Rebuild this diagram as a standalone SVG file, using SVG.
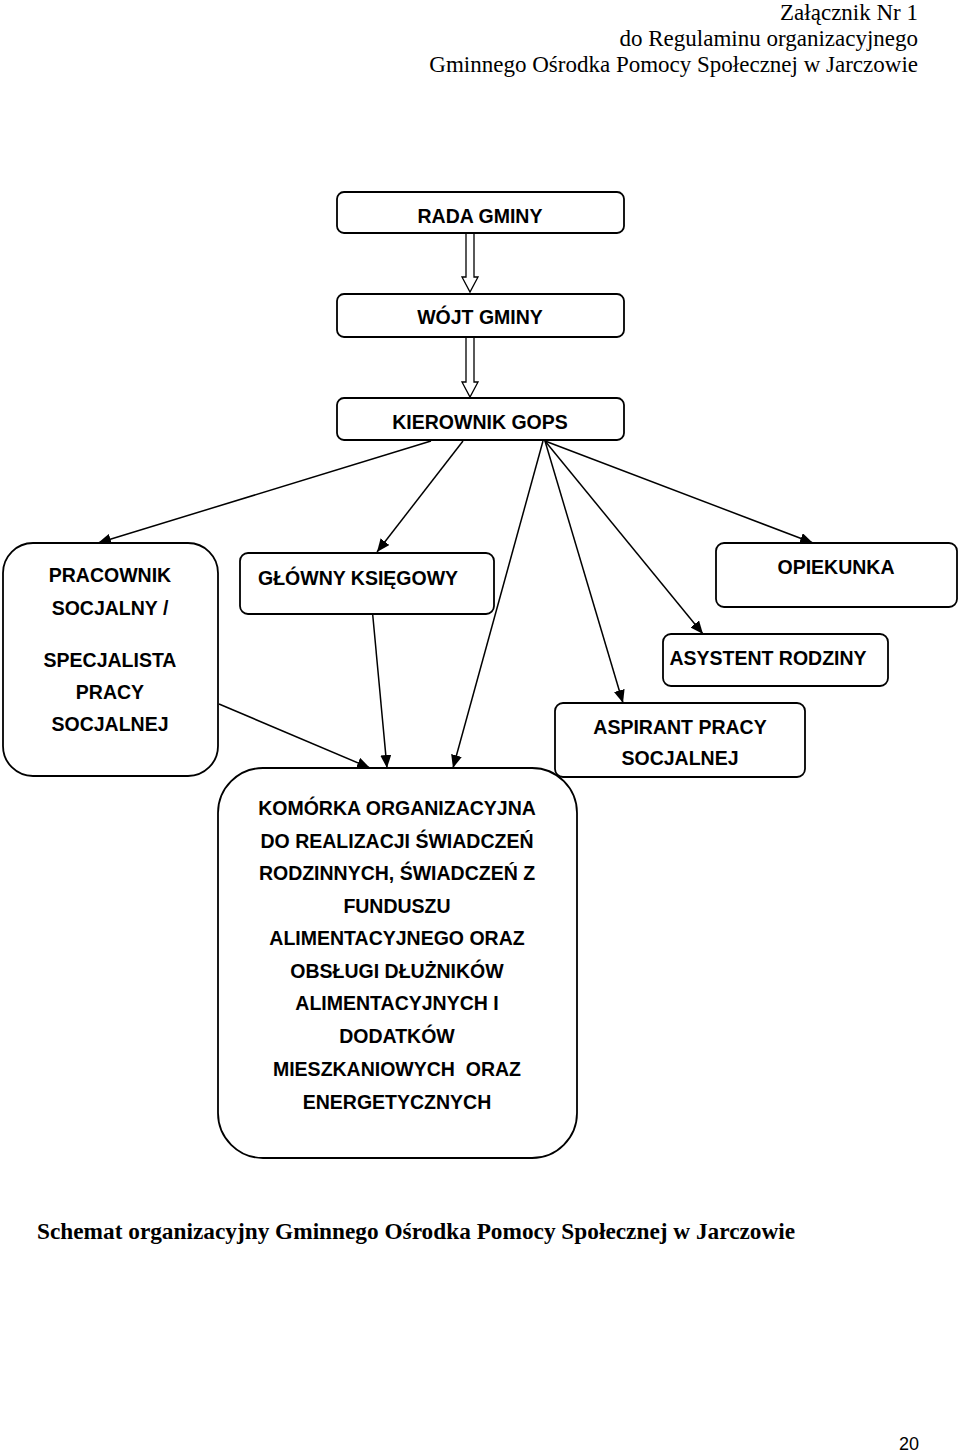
<svg xmlns="http://www.w3.org/2000/svg" width="960" height="1453" viewBox="0 0 960 1453">
<style>
.box{fill:#fff;stroke:#000;stroke-width:1.8}
.t{font-family:"Liberation Sans",Arial,sans-serif;font-weight:bold;font-size:19.5px;fill:#000;text-anchor:middle}
.hdr{font-family:"Liberation Serif","Times New Roman",serif;font-size:23px;fill:#000;text-anchor:end}
.ln{stroke:#000;stroke-width:1.5;fill:none}
.dbl{fill:#fff;stroke:#000;stroke-width:1.3}
</style>
<defs>
<marker id="ah" viewBox="0 0 13 11" refX="13" refY="5.5" markerWidth="13" markerHeight="11" markerUnits="userSpaceOnUse" orient="auto">
<path d="M0,0 L13,5.5 L0,11 z" fill="#000"/>
</marker>
</defs>
<g id="header">
<text class="hdr" x="918" y="20">Załącznik Nr 1</text>
<text class="hdr" x="918" y="46">do Regulaminu organizacyjnego</text>
<text class="hdr" x="918" y="72">Gminnego Ośrodka Pomocy Społecznej w Jarczowie</text>
</g>
<g id="connectors">
<path class="dbl" d="M466,234 V277 H462 L470,292 L478,277 H474 V234"/>
<path class="dbl" d="M466,338 V382 H462 L470,397 L478,382 H474 V338"/>
<line class="ln" x1="431" y1="441" x2="98" y2="543" marker-end="url(#ah)"/>
<line class="ln" x1="463" y1="441" x2="377" y2="552" marker-end="url(#ah)"/>
<line class="ln" x1="543" y1="441" x2="453" y2="768" marker-end="url(#ah)"/>
<line class="ln" x1="545" y1="441" x2="623" y2="703" marker-end="url(#ah)"/>
<line class="ln" x1="545" y1="441" x2="703" y2="634" marker-end="url(#ah)"/>
<line class="ln" x1="545" y1="441" x2="813" y2="543" marker-end="url(#ah)"/>
<line class="ln" x1="372" y1="607" x2="387" y2="768" marker-end="url(#ah)"/>
<line class="ln" x1="219" y1="704" x2="370" y2="768" marker-end="url(#ah)"/>
</g>
<g id="rada">
<rect class="box" x="337" y="192" width="287" height="41" rx="7"/>
<text class="t" x="480" y="223">RADA GMINY</text>
</g>
<g id="wojt">
<rect class="box" x="337" y="294" width="287" height="43" rx="7"/>
<text class="t" x="480" y="324">WÓJT GMINY</text>
</g>
<g id="kierownik">
<rect class="box" x="337" y="398" width="287" height="42" rx="7"/>
<text class="t" x="480" y="429">KIEROWNIK GOPS</text>
</g>
<g id="pracownik">
<rect class="box" x="3" y="543" width="215" height="233" rx="30"/>
<text class="t" x="110" y="582">PRACOWNIK</text>
<text class="t" x="110" y="615">SOCJALNY /</text>
<text class="t" x="110" y="667">SPECJALISTA</text>
<text class="t" x="110" y="699">PRACY</text>
<text class="t" x="110" y="731">SOCJALNEJ</text>
</g>
<g id="ksiegowy">
<rect class="box" x="240" y="553" width="254" height="61" rx="8"/>
<text class="t" x="258" y="585" style="text-anchor:start">GŁÓWNY KSIĘGOWY</text>
</g>
<g id="opiekunka">
<rect class="box" x="716" y="543" width="241" height="64" rx="8"/>
<text class="t" x="836" y="574">OPIEKUNKA</text>
</g>
<g id="asystent">
<rect class="box" x="663" y="634" width="225" height="52" rx="8"/>
<text class="t" x="768" y="665">ASYSTENT RODZINY</text>
</g>
<g id="aspirant">
<rect class="box" x="555" y="703" width="250" height="74" rx="8"/>
<text class="t" x="680" y="734">ASPIRANT PRACY</text>
<text class="t" x="680" y="765">SOCJALNEJ</text>
</g>
<g id="komorka">
<rect class="box" x="218" y="768" width="359" height="390" rx="45"/>
<text class="t" x="397" y="815">KOMÓRKA ORGANIZACYJNA</text>
<text class="t" x="397" y="848">DO REALIZACJI ŚWIADCZEŃ</text>
<text class="t" x="397" y="880">RODZINNYCH, ŚWIADCZEŃ Z</text>
<text class="t" x="397" y="913">FUNDUSZU</text>
<text class="t" x="397" y="945">ALIMENTACYJNEGO ORAZ</text>
<text class="t" x="397" y="978">OBSŁUGI DŁUŻNIKÓW</text>
<text class="t" x="397" y="1010">ALIMENTACYJNYCH I</text>
<text class="t" x="397" y="1043">DODATKÓW</text>
<text class="t" x="397" y="1076" xml:space="preserve">MIESZKANIOWYCH  ORAZ</text>
<text class="t" x="397" y="1109">ENERGETYCZNYCH</text>
</g>
<g id="caption">
<text x="37" y="1239" style="font-family:'Liberation Serif','Times New Roman',serif;font-weight:bold;font-size:23.3px">Schemat organizacyjny Gminnego Ośrodka Pomocy Społecznej w Jarczowie</text>
</g>
<g id="page">
<text x="919" y="1450" style="font-family:'Liberation Sans',Arial,sans-serif;font-size:18px;text-anchor:end">20</text>
</g>
</svg>
